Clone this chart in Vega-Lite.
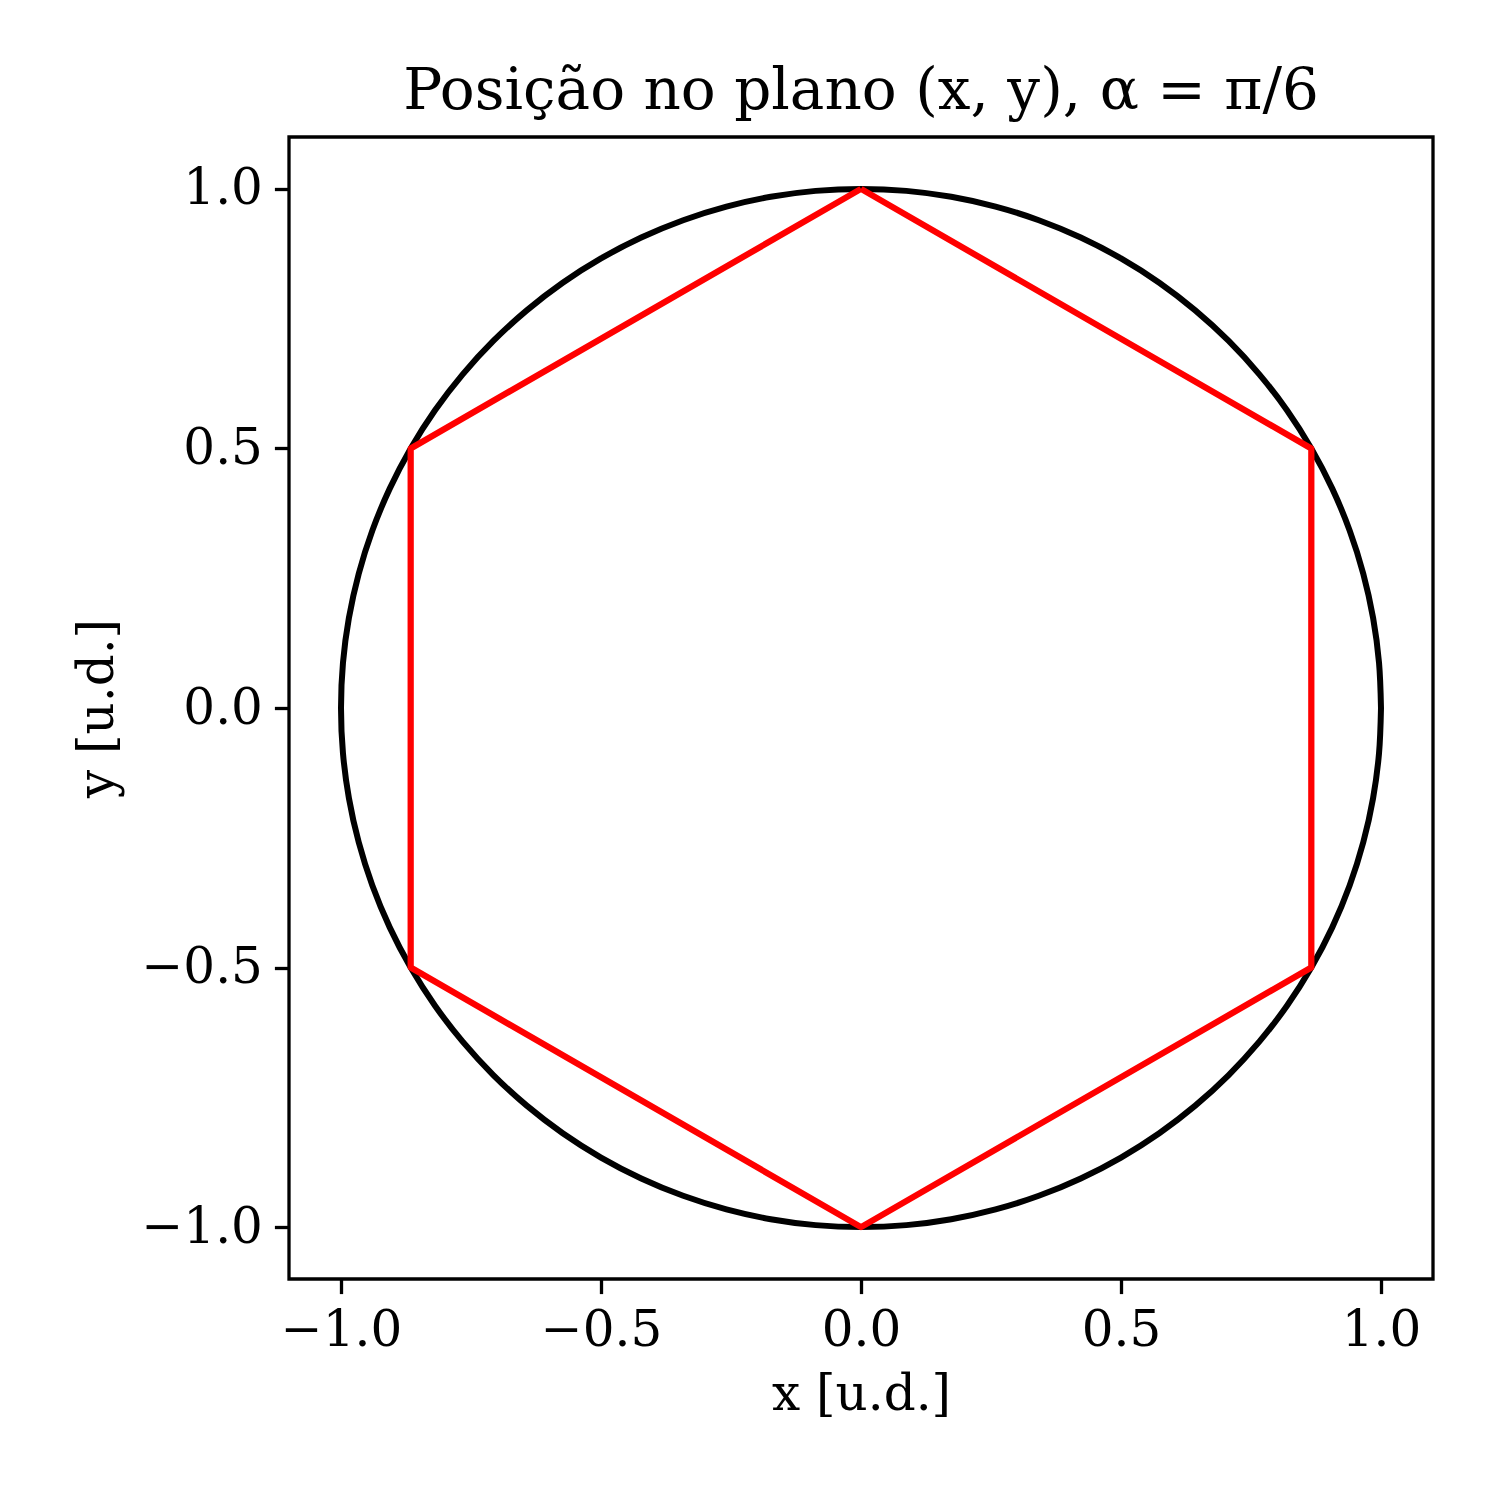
{
  "$schema": "https://vega.github.io/schema/vega-lite/v6.json",
  "width": 1144,
  "height": 1142,
  "autosize": {"type": "none"},
  "padding": {"left": 289, "top": 137, "right": 67, "bottom": 221},
  "background": "white",
  "title": {
    "text": "Posição no plano (x, y), α = π/6",
    "font": "DejaVu Serif",
    "fontSize": 58,
    "fontWeight": "normal",
    "color": "black",
    "anchor": "middle",
    "offset": 16
  },
  "config": {
    "view": {"stroke": "black", "strokeWidth": 3.3},
    "axis": {
      "grid": false,
      "domain": false,
      "tickColor": "black",
      "tickWidth": 3.3,
      "tickSize": 14.6,
      "labelFont": "DejaVu Serif",
      "labelFontSize": 50,
      "labelColor": "black",
      "labelPadding": 12,
      "titleFont": "DejaVu Serif",
      "titleFontSize": 50,
      "titleFontWeight": "normal",
      "titleColor": "black"
    }
  },
  "datasets": {
    "circle": [
      {"a": 0, "x": 1, "y": 0},
      {"a": 5, "x": 0.9962, "y": 0.0872},
      {"a": 10, "x": 0.9848, "y": 0.1736},
      {"a": 15, "x": 0.9659, "y": 0.2588},
      {"a": 20, "x": 0.9397, "y": 0.342},
      {"a": 25, "x": 0.9063, "y": 0.4226},
      {"a": 30, "x": 0.866, "y": 0.5},
      {"a": 35, "x": 0.8192, "y": 0.5736},
      {"a": 40, "x": 0.766, "y": 0.6428},
      {"a": 45, "x": 0.7071, "y": 0.7071},
      {"a": 50, "x": 0.6428, "y": 0.766},
      {"a": 55, "x": 0.5736, "y": 0.8192},
      {"a": 60, "x": 0.5, "y": 0.866},
      {"a": 65, "x": 0.4226, "y": 0.9063},
      {"a": 70, "x": 0.342, "y": 0.9397},
      {"a": 75, "x": 0.2588, "y": 0.9659},
      {"a": 80, "x": 0.1736, "y": 0.9848},
      {"a": 85, "x": 0.0872, "y": 0.9962},
      {"a": 90, "x": 0, "y": 1},
      {"a": 95, "x": -0.0872, "y": 0.9962},
      {"a": 100, "x": -0.1736, "y": 0.9848},
      {"a": 105, "x": -0.2588, "y": 0.9659},
      {"a": 110, "x": -0.342, "y": 0.9397},
      {"a": 115, "x": -0.4226, "y": 0.9063},
      {"a": 120, "x": -0.5, "y": 0.866},
      {"a": 125, "x": -0.5736, "y": 0.8192},
      {"a": 130, "x": -0.6428, "y": 0.766},
      {"a": 135, "x": -0.7071, "y": 0.7071},
      {"a": 140, "x": -0.766, "y": 0.6428},
      {"a": 145, "x": -0.8192, "y": 0.5736},
      {"a": 150, "x": -0.866, "y": 0.5},
      {"a": 155, "x": -0.9063, "y": 0.4226},
      {"a": 160, "x": -0.9397, "y": 0.342},
      {"a": 165, "x": -0.9659, "y": 0.2588},
      {"a": 170, "x": -0.9848, "y": 0.1736},
      {"a": 175, "x": -0.9962, "y": 0.0872},
      {"a": 180, "x": -1, "y": 0},
      {"a": 185, "x": -0.9962, "y": -0.0872},
      {"a": 190, "x": -0.9848, "y": -0.1736},
      {"a": 195, "x": -0.9659, "y": -0.2588},
      {"a": 200, "x": -0.9397, "y": -0.342},
      {"a": 205, "x": -0.9063, "y": -0.4226},
      {"a": 210, "x": -0.866, "y": -0.5},
      {"a": 215, "x": -0.8192, "y": -0.5736},
      {"a": 220, "x": -0.766, "y": -0.6428},
      {"a": 225, "x": -0.7071, "y": -0.7071},
      {"a": 230, "x": -0.6428, "y": -0.766},
      {"a": 235, "x": -0.5736, "y": -0.8192},
      {"a": 240, "x": -0.5, "y": -0.866},
      {"a": 245, "x": -0.4226, "y": -0.9063},
      {"a": 250, "x": -0.342, "y": -0.9397},
      {"a": 255, "x": -0.2588, "y": -0.9659},
      {"a": 260, "x": -0.1736, "y": -0.9848},
      {"a": 265, "x": -0.0872, "y": -0.9962},
      {"a": 270, "x": 0, "y": -1},
      {"a": 275, "x": 0.0872, "y": -0.9962},
      {"a": 280, "x": 0.1736, "y": -0.9848},
      {"a": 285, "x": 0.2588, "y": -0.9659},
      {"a": 290, "x": 0.342, "y": -0.9397},
      {"a": 295, "x": 0.4226, "y": -0.9063},
      {"a": 300, "x": 0.5, "y": -0.866},
      {"a": 305, "x": 0.5736, "y": -0.8192},
      {"a": 310, "x": 0.6428, "y": -0.766},
      {"a": 315, "x": 0.7071, "y": -0.7071},
      {"a": 320, "x": 0.766, "y": -0.6428},
      {"a": 325, "x": 0.8192, "y": -0.5736},
      {"a": 330, "x": 0.866, "y": -0.5},
      {"a": 335, "x": 0.9063, "y": -0.4226},
      {"a": 340, "x": 0.9397, "y": -0.342},
      {"a": 345, "x": 0.9659, "y": -0.2588},
      {"a": 350, "x": 0.9848, "y": -0.1736},
      {"a": 355, "x": 0.9962, "y": -0.0872},
      {"a": 360, "x": 1, "y": 0}
    ],
    "hex": [
      {"k": 0, "x": 0, "y": 1},
      {"k": 1, "x": 0.866, "y": 0.5},
      {"k": 2, "x": 0.866, "y": -0.5},
      {"k": 3, "x": 0, "y": -1},
      {"k": 4, "x": -0.866, "y": -0.5},
      {"k": 5, "x": -0.866, "y": 0.5},
      {"k": 6, "x": 0, "y": 1}
    ]
  },
  "encoding": {
    "x": {
      "field": "x", "type": "quantitative",
      "scale": {"domain": [-1.1, 1.1], "nice": false, "zero": false},
      "axis": {"values": [-1, -0.5, 0, 0.5, 1], "format": ".1f", "labelExpr": "replace(datum.label, '-', '−')", "title": "x [u.d.]", "titlePadding": 14}
    },
    "y": {
      "field": "y", "type": "quantitative",
      "scale": {"domain": [-1.1, 1.1], "nice": false, "zero": false},
      "axis": {"values": [-1, -0.5, 0, 0.5, 1], "format": ".1f", "labelExpr": "replace(datum.label, '-', '−')", "title": "y [u.d.]", "titlePadding": 18}
    }
  },
  "layer": [
    {
      "data": {"name": "circle"},
      "mark": {"type": "line", "color": "black", "strokeWidth": 6, "interpolate": "catmull-rom", "clip": false},
      "encoding": {"order": {"field": "a", "type": "quantitative"}}
    },
    {
      "data": {"name": "hex"},
      "mark": {"type": "line", "color": "#ff0000", "strokeWidth": 6.25, "strokeJoin": "round", "clip": false},
      "encoding": {"order": {"field": "k", "type": "quantitative"}}
    }
  ]
}
